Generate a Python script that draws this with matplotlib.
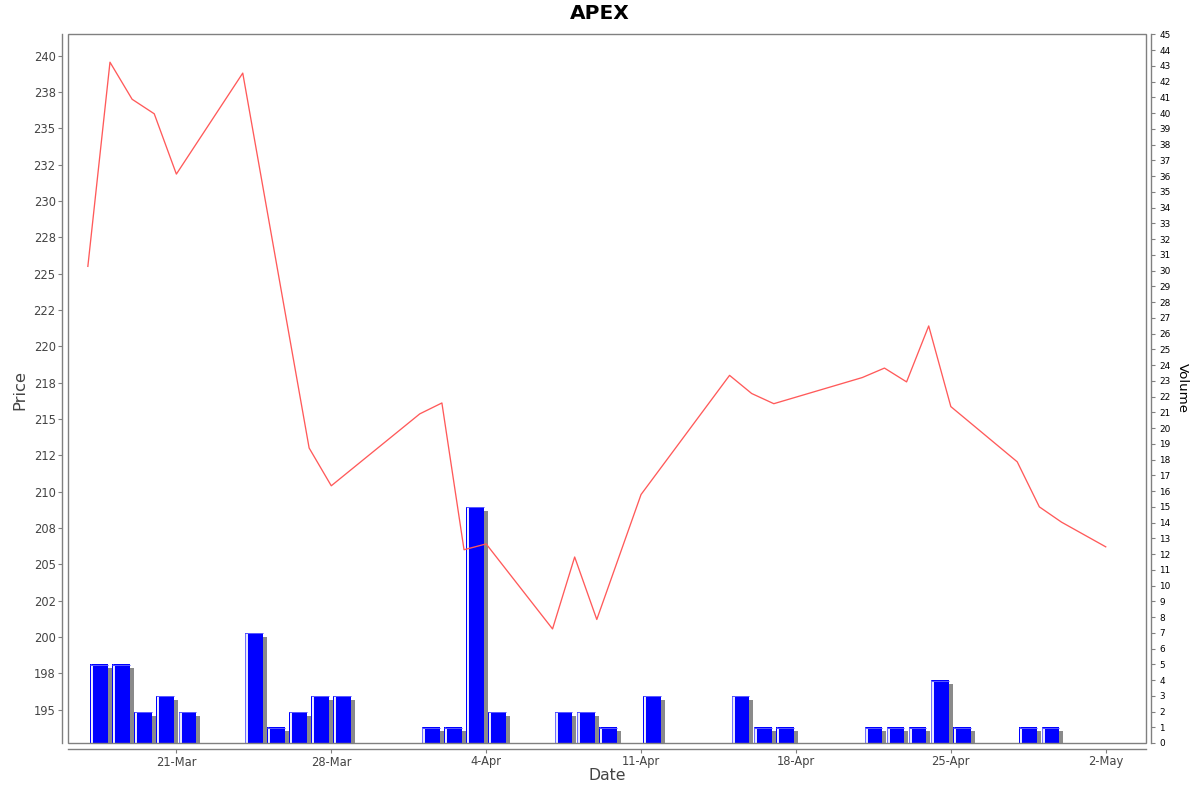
import datetime as dt
import numpy as np
import matplotlib
matplotlib.use("Agg")
import matplotlib.pyplot as plt
import matplotlib.dates as mdates
from matplotlib.transforms import offset_copy
from matplotlib.patches import Rectangle

plt.rcParams['font.family'] = ['DejaVu Sans']

# ---- data ----
price_dates = ["2025-03-17", "2025-03-18", "2025-03-19", "2025-03-20", "2025-03-21",
               "2025-03-24", "2025-03-27", "2025-03-28", "2025-04-01", "2025-04-02",
               "2025-04-03", "2025-04-04", "2025-04-07", "2025-04-08", "2025-04-09",
               "2025-04-11", "2025-04-15", "2025-04-16", "2025-04-17", "2025-04-21",
               "2025-04-22", "2025-04-23", "2025-04-24", "2025-04-25", "2025-04-28",
               "2025-04-29", "2025-04-30", "2025-05-02"]
prices = [225.5, 239.55, 237.0, 236.0, 231.85,
          238.8, 213.0, 210.4, 215.35, 216.1,
          206.0, 206.4, 200.55, 205.5, 201.2,
          209.8, 218.0, 216.75, 216.05, 217.85,
          218.5, 217.55, 221.4, 215.85, 212.05,
          208.95, 207.9, 206.2]

volume_dates = ["2025-03-17", "2025-03-18", "2025-03-19", "2025-03-20", "2025-03-21",
                "2025-03-24", "2025-03-25", "2025-03-26", "2025-03-27", "2025-03-28",
                "2025-04-01", "2025-04-02", "2025-04-03", "2025-04-04", "2025-04-07",
                "2025-04-08", "2025-04-09", "2025-04-11", "2025-04-15", "2025-04-16",
                "2025-04-17", "2025-04-21", "2025-04-22", "2025-04-23", "2025-04-24",
                "2025-04-25", "2025-04-28", "2025-04-29"]
volumes = [5, 5, 2, 3, 2,
           7, 1, 2, 3, 3,
           1, 1, 15, 2, 2,
           2, 1, 3, 3, 1,
           1, 1, 1, 1, 4,
           1, 1, 1]

price_ticks = [195, 197.5, 200, 202.5, 205, 207.5, 210, 212.5, 215, 217.5, 220,
               222.5, 225, 227.5, 230, 232.5, 235, 237.5, 240]
price_tick_labels = ["195", "198", "200", "202", "205", "208", "210", "212", "215", "218",
                     "220", "222", "225", "228", "230", "232", "235", "238", "240"]
volume_ticks = list(range(0, 46))
date_ticks = ["2025-03-21", "2025-03-28", "2025-04-04", "2025-04-11", "2025-04-18",
              "2025-04-25", "2025-05-02"]
date_tick_labels = ["21-Mar", "28-Mar", "4-Apr", "11-Apr", "18-Apr", "25-Apr", "2-May"]


def to_num(ds):
    return mdates.date2num([dt.datetime.strptime(d, "%Y-%m-%d") for d in ds])


pd_num = to_num(price_dates)
vd_num = to_num(volume_dates)
vols = np.array(volumes, dtype=float)

W, H = 1200, 792
fig = plt.figure(figsize=(W / 100, H / 100), dpi=100)
fig.patch.set_facecolor('white')

left, right = 67.5 / W, 1146 / W
bottom, top = (H - 743) / H, (H - 34.3) / H
ax = fig.add_axes([left, bottom, right - left, top - bottom])
ax2 = ax.twinx()
ax.set_zorder(ax2.get_zorder() + 1)
ax.patch.set_visible(False)
ax2.patch.set_facecolor('white')

GRAY = '#808080'
TXT = '#444444'

# ---- volume bars (right axis) ----
shadow_tr = offset_copy(ax2.transData, fig=fig, x=4, y=-4, units='dots')
ax2.bar(vd_num + 0.1, vols, width=0.8, align='edge', color='#8a8a8a',
        edgecolor='none', transform=shadow_tr, zorder=1)
ax2.bar(vd_num + 0.1, vols, width=0.8, align='edge', color='#0000ff',
        edgecolor='none', zorder=2)
edge_tr = offset_copy(ax2.transData, fig=fig, x=0.5, y=0, units='dots')
ax2.vlines(vd_num + 0.1, 0, vols, colors='#7070ff', lw=0.72, transform=edge_tr, zorder=3)
white_tr = offset_copy(ax2.transData, fig=fig, x=2.0, y=0, units='dots')
ax2.vlines(vd_num + 0.1, 0, vols - 0.06, colors='white', lw=1.3, transform=white_tr, zorder=3)
top_tr = offset_copy(ax2.transData, fig=fig, x=0, y=-0.5, units='dots')
ax2.hlines(vols, vd_num + 0.1, vd_num + 0.9, colors='#5a5aff', lw=0.72, transform=top_tr, zorder=4)

ax2.set_ylim(0, 45)
ax2.set_yticks(volume_ticks)
ax2.set_yticklabels([str(v) for v in volume_ticks])
ax2.tick_params(axis='y', direction='out', length=3, width=0.8, color=GRAY,
                labelsize=6.4, labelcolor='black', pad=3)

# ---- price line (left axis) ----
ax.plot(pd_num, prices, color='#ff5a5a', lw=0.95, zorder=5)
ax.set_ylim(192.70, 241.47)
ax.set_yticks(price_ticks)
ax.set_yticklabels(price_tick_labels)
ax.tick_params(axis='y', direction='out', length=3, width=0.8, color=GRAY,
               labelsize=8.3, labelcolor=TXT, pad=1.5)

xmin = to_num(["2025-03-17"])[0] - 0.92
xmax = to_num(["2025-05-02"])[0] + 1.82
ax.set_xlim(xmin, xmax)
ax.set_xticks(to_num(date_ticks))
ax.set_xticklabels(date_tick_labels)
ax.tick_params(axis='x', direction='out', length=3, width=0.8, color=GRAY,
               labelsize=8.3, labelcolor=TXT, pad=2)

# spines
for s in ['top', 'right']:
    ax.spines[s].set_visible(False)
for s in ['top', 'left', 'bottom']:
    ax2.spines[s].set_visible(False)
ax.spines['left'].set_position(('outward', 4))
ax.spines['bottom'].set_position(('outward', 4))
ax2.spines['right'].set_position(('outward', 3.5))
for sp in [ax.spines['left'], ax.spines['bottom'], ax2.spines['right']]:
    sp.set_color(GRAY)
    sp.set_linewidth(1.0)

# plot outline
ax.add_patch(Rectangle((0, 0), 1, 1, transform=ax.transAxes, fill=False,
                       edgecolor=GRAY, lw=1.0, clip_on=False, zorder=10))

# texts
fig.text(0.5, 1 - 13.5 / H, "APEX", ha='center', va='center', fontsize=14.5,
         fontweight='bold', color='black')
fig.text(20 / W, 1 - 390 / H, "Price", ha='center', va='center', rotation=90,
         fontsize=11.8, color=TXT)
fig.text(607 / W, 1 - 776 / H, "Date", ha='center', va='center',
         fontsize=11.3, color=TXT)
fig.text(1182 / W, 1 - 388 / H, "Volume", ha='center', va='center', rotation=270,
         fontsize=9.6, color='black')

fig.savefig("out.png", dpi=100)
